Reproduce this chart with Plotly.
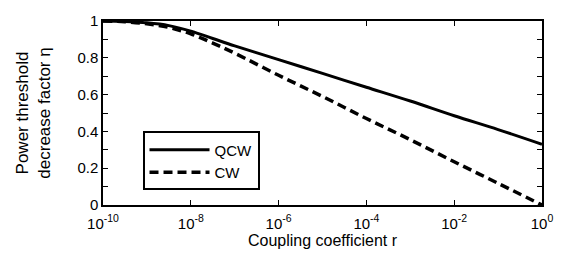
import plotly.graph_objects as go

log_r = [-10, -9.5, -9, -8.5, -8, -7.5, -7, -6, -5, -4, -3, -2, -1, 0]
r_values = [10 ** v for v in log_r]
eta_qcw = [1.0, 0.997, 0.99, 0.975, 0.945, 0.905, 0.865, 0.79, 0.715, 0.64, 0.565, 0.485, 0.41, 0.33]
eta_cw = [1.0, 0.996, 0.985, 0.965, 0.93, 0.88, 0.825, 0.705, 0.59, 0.47, 0.355, 0.235, 0.118, 0.0]

x_tickvals = [1e-10, 1e-8, 1e-6, 1e-4, 1e-2, 1e0]
x_ticktext = ["10<sup>-10</sup>", "10<sup>-8</sup>", "10<sup>-6</sup>", "10<sup>-4</sup>", "10<sup>-2</sup>", "10<sup>0</sup>"]
y_tickvals = [0, 0.1, 0.2, 0.3, 0.4, 0.5, 0.6, 0.7, 0.8, 0.9, 1.0]
y_ticktext = ["0", "", "0.2", "", "0.4", "", "0.6", "", "0.8", "", "1"]

font_family = "Liberation Sans, Arial, sans-serif"

fig = go.Figure()
fig.add_trace(go.Scatter(x=r_values, y=eta_qcw, mode="lines", name="QCW",
                         line=dict(color="black", width=3, shape="spline")))
fig.add_trace(go.Scatter(x=r_values, y=eta_cw, mode="lines", name="CW",
                         line=dict(color="black", width=3.5, dash="9px,5px", shape="spline")))

fig.update_layout(
    width=565, height=255,
    margin=dict(l=103, r=17, t=15, b=44),
    paper_bgcolor="white", plot_bgcolor="white",
    font=dict(family=font_family, size=15, color="black"),
    showlegend=True,
    legend=dict(x=0.09, y=0.40, xanchor="left", yanchor="top",
                bordercolor="black", borderwidth=2, bgcolor="white",
                font=dict(size=15), tracegroupgap=0, itemwidth=60),
    xaxis=dict(type="log", range=[-10, 0], tickvals=x_tickvals, ticktext=x_ticktext,
               ticks="inside", ticklen=5, tickwidth=1, tickcolor="black",
               showline=True, linecolor="black", linewidth=1.5, mirror="ticks",
               showgrid=False, zeroline=False, ticklabelstandoff=4,
               title=dict(text="Coupling coefficient r", font=dict(size=16), standoff=0),
               tickfont=dict(size=15)),
    yaxis=dict(range=[0, 1], tickvals=y_tickvals, ticktext=y_ticktext,
               ticks="inside", ticklen=5, tickwidth=1, tickcolor="black",
               showline=True, linecolor="black", linewidth=1.5, mirror="ticks",
               showgrid=False, zeroline=False,
               title=dict(text="Power threshold<br>decrease factor η", font=dict(size=17), standoff=22),
               tickfont=dict(size=15)),
)

fig.write_html("out.html", config={"displayModeBar": False},
               post_script="document.body.style.margin='0';")
